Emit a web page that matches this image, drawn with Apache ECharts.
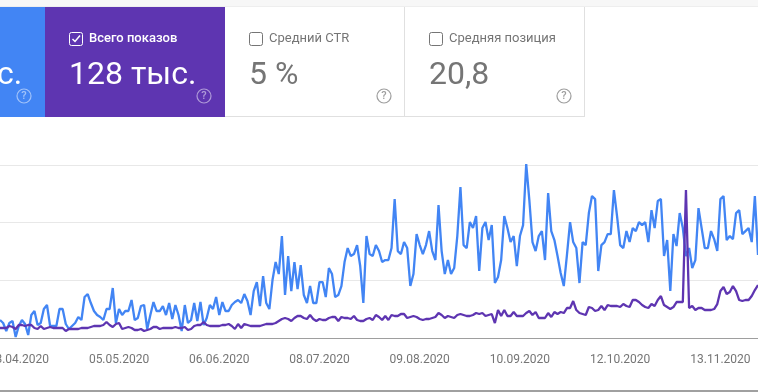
<!DOCTYPE html>
<html><head><meta charset="utf-8">
<style>html,body{margin:0;padding:0;background:#fff}#c{width:758px;height:392px}</style>
<script src="https://cdn.jsdelivr.net/npm/echarts@6/dist/echarts.min.js"></script>
</head><body><div id="c"></div>
<script>
const startDate = Date.UTC(2020, 2, 28);
const tickLabels = ['03.04.2020','05.05.2020','06.06.2020','08.07.2020','09.08.2020','10.09.2020','12.10.2020','13.11.2020'];
const clicks = [18,15,7,15,17,1,12,18,14,3,23,27,13,15,29,33,12,12,12,29,29,14,9,12,15,21,18,41,44,35,27,23,21,18,29,29,50,15,29,23,27,27,38,18,20,32,33,9,23,36,27,27,32,23,35,19,33,23,7,33,15,18,35,17,36,13,20,33,29,41,23,36,27,27,33,36,38,35,44,37,
23,47,56,32,62,35,29,58,76,64,102,43,82,47,76,49,73,43,35,52,35,35,56,56,41,70,64,41,43,52,76,90,82,84,93,72,35,102,84,82,93,
87,76,78,78,90,139,87,84,96,90,52,64,104,93,84,93,107,87,78,133,87,64,78,64,70,102,151,93,90,116,110,122,67,110,116,98,113,55,61,
78,122,110,96,102,72,102,113,174,138,96,87,102,107,78,145,107,98,82,65,52,83,116,96,90,55,96,93,125,142,139,67,93,96,104,104,148,122,93,90,107,
96,110,107,116,113,116,96,128,110,137,139,82,98,47,104,92,125,110,82,90,70,78,130,110,90,90,107,99,87,139,142,98,102,99,125,128,104,107,110,96,142,83];
const impressions = [10,10,10,12,11,9,13,13,12,13,13,10,9,12,9,10,11,10,10,10,10,7,9,9,9,9,10,10,10,11,12,12,12,13,16,13,11,14,15,9,10,11,10,8,8,9,7,8,9,11,11,9,10,10,10,10,11,10,10,11,8,9,12,13,13,16,13,12,12,12,12,13,13,14,12,9,14,10,14,13,
12,12,12,12,13,14,14,14,15,17,19,20,19,17,20,22,22,20,19,23,19,17,19,18,18,20,21,21,17,21,20,20,19,22,18,17,17,19,20,18,23,
21,18,22,18,23,22,22,24,24,20,21,22,21,19,18,19,19,20,21,25,23,20,22,21,20,23,24,23,22,22,23,25,24,25,22,23,24,15,28,
22,28,22,22,26,22,22,22,25,27,23,26,20,20,20,25,21,26,24,26,25,30,30,37,28,25,24,23,31,30,27,28,32,28,33,32,32,32,31,34,32,
31,38,38,36,33,31,30,34,32,38,42,33,31,29,31,36,36,36,148,30,32,28,30,30,28,28,28,29,34,47,51,44,46,52,47,38,37,38,38,42,48,53];
const pad = n => String(n).padStart(2,'0');
const categories = clicks.map((_, i) => {
  const d = new Date(startDate + i * 86400000);
  return pad(d.getUTCDate()) + '.' + pad(d.getUTCMonth()+1) + '.' + d.getUTCFullYear();
});
const cards = [
  {x:-135, w:180, bg:'#4285f4', fg:'#fff', value:'с.', vx:-3, icon:'rgba(255,255,255,.5)'},
  {x:45, w:180, bg:'#5e35b1', fg:'#fff', label:'Всего показов', value:'128 тыс.', checked:true, icon:'rgba(255,255,255,.5)'},
  {x:225, w:180, bg:'#fff', fg:'#757575', label:'Средний CTR', value:'5 %', icon:'#9e9e9e'},
  {x:405, w:180, bg:'#fff', fg:'#757575', label:'Средняя позиция', value:'20,8', icon:'#9e9e9e'}
];
const F = 'Roboto';
const g = [
  {type:'rect', shape:{x:0,y:0,width:758,height:6}, style:{fill:'#f7f7f7'}, silent:true},
  {type:'rect', shape:{x:0,y:6,width:758,height:1}, style:{fill:'#eeeeee'}, silent:true},
  {type:'rect', shape:{x:0,y:390,width:758,height:2}, style:{fill:'#a0a0a0'}, silent:true},
];
cards.forEach(c => {
  g.push({type:'rect', shape:{x:c.x,y:7,width:c.w,height:110}, style:{fill:c.bg}});
  if (c.bg === '#fff') {
    g.push({type:'rect', shape:{x:c.x,y:116,width:c.w,height:1}, style:{fill:'#e0e0e0'}});
    g.push({type:'rect', shape:{x:c.x+c.w-1,y:7,width:1,height:110}, style:{fill:'#e0e0e0'}});
  }
  if (c.label) {
    g.push({type:'rect', shape:{x:c.x+24.5,y:32.5,width:13,height:13,r:2}, style:{fill:'none',stroke:c.checked?'#fff':'#757575',lineWidth:1}});
    if (c.checked) g.push({type:'polyline', shape:{points:[[c.x+27.5,39],[c.x+30,41.5],[c.x+35,35.5]]}, style:{fill:'none',stroke:'#fff',lineWidth:1.5}});
    g.push({type:'text', x:c.x+44, y:39, style:{text:c.label, fill:c.fg, font:(c.checked?'500':'400')+' 13px '+F, textVerticalAlign:'middle', textBaseline:'middle'}});
  }
  g.push({type:'text', x:c.vx!==undefined?c.vx:c.x+24, y:75.5, style:{text:c.value, fill:c.fg, font:'400 32px '+F, textBaseline:'middle', textVerticalAlign:'middle'}});
  const cx = c.x+c.w-21, cy = 96;
  g.push({type:'circle', shape:{cx:cx,cy:cy,r:7}, style:{fill:'none',stroke:c.icon,lineWidth:1.2}});
  g.push({type:'text', x:cx, y:cy+0.5, style:{text:'?', fill:c.icon, font:'500 11px '+F, textAlign:'center', textBaseline:'middle', textVerticalAlign:'middle'}});
});
const chart = echarts.init(document.getElementById('c'), null, {renderer:'canvas'});
chart.setOption({
  animation:false,
  graphic:{elements:g},
  grid:{left:0,right:0,top:165,bottom:54,containLabel:false,outerBoundsMode:'none'},
  xAxis:{type:'category',data:categories,boundaryGap:false,
    axisLine:{lineStyle:{color:'#9e9e9e',width:1}},axisTick:{show:false},splitLine:{show:false},
    axisLabel:{interval:(i,v)=>tickLabels.includes(v),color:'#757575',fontFamily:F,fontSize:12,margin:16,hideOverlap:false}},
  yAxis:{type:'value',min:0,max:173.1,interval:57.7,axisLine:{show:false},axisTick:{show:false},axisLabel:{show:false},
    splitLine:{lineStyle:{color:'#e8e8e8',width:1}}},
  series:[
    {name:'Всего кликов',type:'line',data:clicks,showSymbol:false,clip:false,lineStyle:{color:'#4285f4',width:2.3},itemStyle:{color:'#4285f4'}},
    {name:'Всего показов',type:'line',data:impressions,showSymbol:false,clip:false,lineStyle:{color:'#5e35b1',width:2.3},itemStyle:{color:'#5e35b1'}}
  ]
});
</script></body></html>
